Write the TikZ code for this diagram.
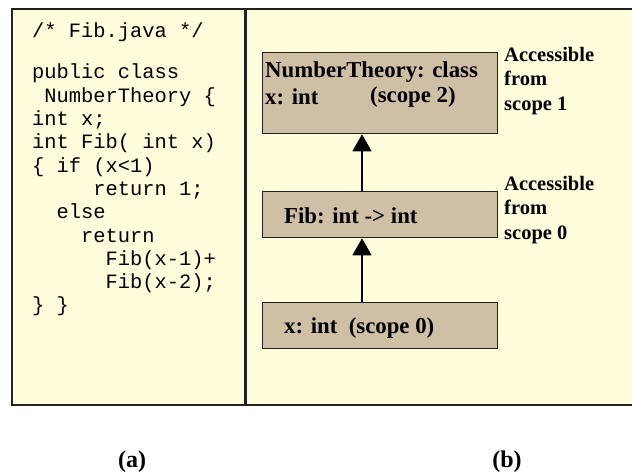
\documentclass[tikz,border=0pt]{standalone}
\usepackage{fontspec}
\setmainfont{Liberation Serif}
\setmonofont{Liberation Mono}
\usetikzlibrary{arrows.meta}
\definecolor{panelfill}{HTML}{FFFDDC}
\definecolor{boxfill}{HTML}{CFBFA5}
\definecolor{edge}{HTML}{222222}
\tikzset{
  panel/.style={draw=edge, line width=1.4pt, fill=panelfill},
  scopebox/.style={draw=edge, line width=1.3pt, fill=boxfill, rectangle, inner sep=0pt},
  boxtext/.style={font=\fontsize{22.8}{24}\selectfont\bfseries, inner sep=0pt, anchor=west},
  sidelabel/.style={font=\fontsize{20.5}{24.5}\selectfont\bfseries, inner sep=0pt, anchor=north west, align=left},
  codetext/.style={font=\fontsize{20.4}{23.3}\selectfont\ttfamily, inner sep=0pt, anchor=north west, align=left},
  caption/.style={font=\fontsize{24}{26}\selectfont\bfseries, inner sep=0pt},
  uparrow/.style={draw=black, line width=1.3pt, -{Triangle[width=19pt,length=17pt]}}
}
\begin{document}
\begin{tikzpicture}[x=1pt,y=-1pt]
\useasboundingbox (0,0) rectangle (632,474);
% panels
\fill[panelfill] (246,9) rectangle (632,405);
\draw[draw=edge, line width=1.4pt] (640,9) -- (246,9) -- (246,405) -- (640,405);
\draw[panel] (12,9) rectangle (245,405);
% code
\node[codetext] (head) at (32,23) {/* Fib.java */};
\node[codetext] (code) at (32,64) {public class\\
\phantom{x}NumberTheory \{\\
int x;\\
int Fib( int x)\\
\{ if (x<1)\\
\phantom{xxxxx}return 1;\\
\phantom{xx}else\\
\phantom{xxxx}return\\
\phantom{xxxxxx}Fib(x-1)+\\
\phantom{xxxxxx}Fib(x-2);\\
\} \}};
% boxes
\node[scopebox, anchor=north west, minimum width=235pt, minimum height=81pt] (b1) at (262,52) {};
\node[scopebox, anchor=north west, minimum width=235pt, minimum height=46pt] (b2) at (262,191) {};
\node[scopebox, anchor=north west, minimum width=235pt, minimum height=46pt] (b3) at (262,302) {};
\node[boxtext] (t1a) at (265,72) {NumberTheory: class};
\node[boxtext] (t1b) at (265,97) {x: int};
\node[boxtext] (t1c) at (370,97) {(scope 2)};
\node[boxtext] (t2) at (284,216) {Fib: int -> int};
\node[boxtext] (t3) at (284,328) {x: int\ \ (scope 0)};
% arrows
\draw[uparrow] ([xshift=100pt]b2.north west) -- ([xshift=100pt]b1.south west);
\draw[uparrow] ([xshift=100pt]b3.north west) -- ([xshift=100pt]b2.south west);
% side labels
\node[sidelabel] (l1) at (504,47) {Accessible\\from\\scope 1};
\node[sidelabel] (l2) at (504,176) {Accessible\\from\\scope 0};
% captions
\node[caption] (ca) at (132,462) {(a)};
\node[caption] (cb) at (507,462) {(b)};
\end{tikzpicture}
\end{document}
